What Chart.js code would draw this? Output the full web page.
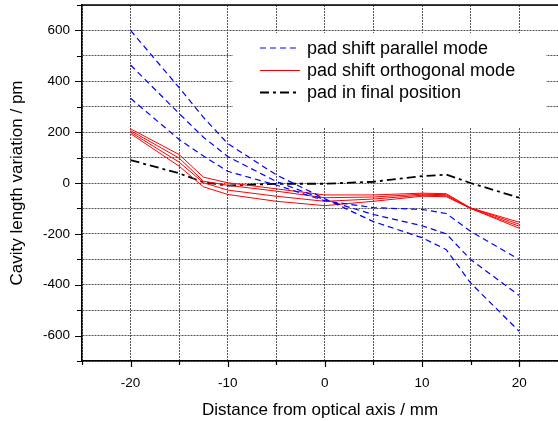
<!DOCTYPE html>
<html>
<head>
<meta charset="utf-8">
<script src="https://cdn.jsdelivr.net/npm/chart.js@4.4.0/dist/chart.umd.min.js"></script>
<style>
  html, body { margin: 0; padding: 0; background: #fff; }
  #wrap { width: 558px; height: 421px; position: relative; }
</style>
</head>
<body>
<div id="wrap"><canvas id="cavityChart"></canvas></div>
<script>
// distance from optical axis (mm)
const positions = [-20, -15, -12.5, -10, -5, 0, 5, 10, 12.5, 15, 20];

// pad shift parallel mode (pm)
const parallelA = [600, 375, 258, 155, 32, -62, -152, -215, -262, -393, -583];
const parallelB = [464, 273, 180, 104, 6, -66, -124, -168, -200, -301, -442];
const parallelC = [333, 171, 106, 46, -8, -70, -97, -104, -120, -190, -301];

// pad shift orthogonal mode (pm)
const orthoA = [213, 112, 23, 1, -23, -47, -47, -40, -42, -98, -154];
const orthoB = [206, 98, 7, -9, -32, -58, -55, -44, -46, -98, -162];
const orthoC = [200, 82, 1, -28, -52, -72, -63, -48, -50, -100, -170];
const orthoD = [194, 66, -15, -45, -72, -89, -72, -52, -54, -100, -178];

// pad in final position (pm)
const finalPos = [90, 38, 3, -10, -3, -3, 5, 27, 33, 0, -58];

const legendLabels = ["pad shift parallel mode", "pad shift orthogonal mode", "pad in final position"];

const FONT = "'Liberation Sans', Arial, sans-serif";
const BLUE = "#0000ff", RED = "#ff0000", BLACK = "#000000";
const BLUE_DASH = [6, 4], BLACK_DASH = [9, 4, 3, 4];

const toPoints = ys => ys.map((y, i) => ({ x: positions[i], y }));

function series(values, color, width, dash) {
  return {
    data: toPoints(values),
    borderColor: color,
    borderWidth: width,
    borderDash: dash,
    pointRadius: 0,
    tension: 0,
    fill: false
  };
}

const datasets = [
  ...[parallelA, parallelB, parallelC].map(v => series(v, BLUE, 1.2, BLUE_DASH)),
  ...[orthoA, orthoB, orthoC, orthoD].map(v => series(v, RED, 1, [])),
  series(finalPos, BLACK, 1.8, BLACK_DASH)
];

// tick marks: long at labelled values, short in between
const tickMarks = {
  id: "tickMarks",
  afterDraw(chart) {
    const { ctx, chartArea: a, scales: { x, y } } = chart;
    ctx.save();
    ctx.strokeStyle = "#000";
    ctx.lineWidth = 1.2;
    ctx.beginPath();
    y.ticks.forEach(t => {
      const py = Math.round(y.getPixelForValue(t.value)) + 0.5;
      const len = t.value % 200 === 0 ? 7 : 5;
      ctx.moveTo(a.left - len, py);
      ctx.lineTo(a.left, py);
    });
    x.ticks.forEach(t => {
      const px = Math.round(x.getPixelForValue(t.value)) + 0.5;
      const len = t.value % 10 === 0 ? 6 : 4;
      ctx.moveTo(px, a.bottom);
      ctx.lineTo(px, a.bottom + len);
    });
    ctx.stroke();
    // top frame
    ctx.lineWidth = 1.5;
    ctx.beginPath();
    ctx.moveTo(a.left, a.top);
    ctx.lineTo(a.right, a.top);
    ctx.stroke();
    ctx.restore();
  }
};

// legend box inside the plot, white background hides grid
const innerLegend = {
  id: "innerLegend",
  afterDatasetsDraw(chart) {
    const { ctx } = chart;
    ctx.save();
    ctx.fillStyle = "#fff";
    ctx.fillRect(233, 33, 313, 95);
    const styles = [
      { color: BLUE, width: 1.2, dash: BLUE_DASH },
      { color: RED, width: 1, dash: [] },
      { color: BLACK, width: 1.8, dash: BLACK_DASH }
    ];
    const rows = [48, 70.5, 92.5];
    ctx.font = "18px " + FONT;
    ctx.textBaseline = "middle";
    ctx.fillStyle = "#000";
    legendLabels.forEach((label, i) => {
      const s = styles[i];
      ctx.strokeStyle = s.color;
      ctx.lineWidth = s.width;
      ctx.setLineDash(s.dash);
      ctx.beginPath();
      ctx.moveTo(260, rows[i]);
      ctx.lineTo(300, rows[i]);
      ctx.stroke();
      ctx.setLineDash([]);
      ctx.fillText(label, 307, rows[i] + 1);
    });
    ctx.restore();
  }
};

new Chart(document.getElementById("cavityChart"), {
  type: "line",
  data: { datasets },
  options: {
    responsive: true,
    maintainAspectRatio: false,
    animation: false,
    layout: { padding: { top: 5, right: 0, left: 0, bottom: 0 } },
    plugins: { legend: { display: false }, tooltip: { enabled: false } },
    scales: {
      x: {
        type: "linear",
        min: -25,
        max: 24,
        afterBuildTicks: s => { s.ticks = s.ticks.filter(t => t.value % 5 === 0); },
        afterFit: s => { s.height = 60; s.paddingLeft = 0; s.paddingRight = 0; },
        ticks: {
          stepSize: 5,
          padding: 14,
          color: "#000",
          font: { family: FONT, size: 13.5 },
          callback: v => (v % 10 === 0 ? String(v) : "")
        },
        grid: { color: "#555", lineWidth: 1, drawTicks: false },
        border: { color: "#000", width: 1.5, dash: [2, 1] },
        title: {
          display: true,
          text: "Distance from optical axis / mm",
          color: "#000",
          font: { family: FONT, size: 17 },
          padding: { top: 0, bottom: 0 }
        }
      },
      y: {
        min: -700,
        max: 700,
        afterFit: s => { s.width = 82; s.paddingTop = 0; s.paddingBottom = 0; },
        ticks: {
          stepSize: 100,
          padding: 12,
          color: "#000",
          font: { family: FONT, size: 13.5 },
          callback: v => (v % 200 === 0 ? String(v) : "")
        },
        grid: { color: "#555", lineWidth: 1, drawTicks: false },
        border: { color: "#000", width: 1.5, dash: [2, 1] },
        title: {
          display: true,
          text: "Cavity length variation / pm",
          color: "#000",
          font: { family: FONT, size: 17 },
          padding: { top: 7, bottom: 0 }
        }
      }
    }
  },
  plugins: [tickMarks, innerLegend]
});
</script>
</body>
</html>
